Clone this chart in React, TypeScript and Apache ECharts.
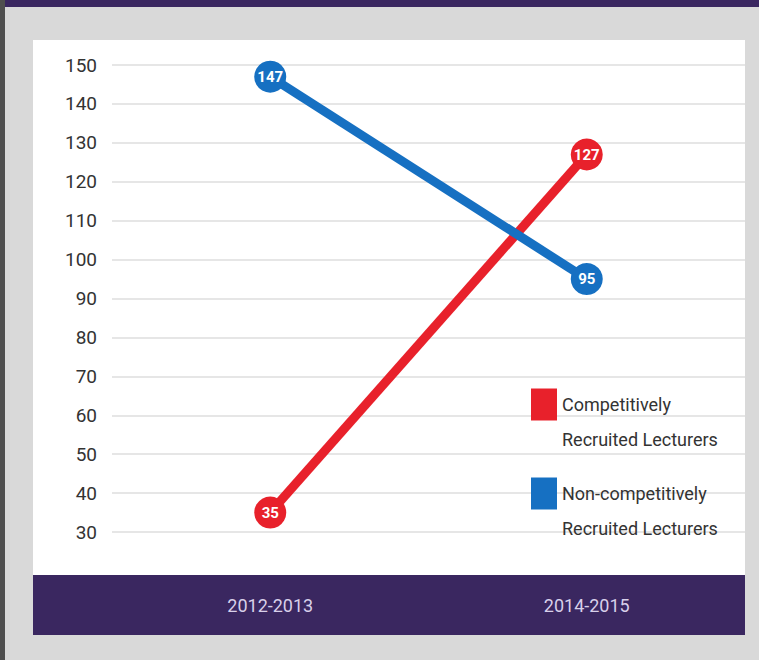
import React, { useEffect, useRef } from "react";
import * as echarts from "echarts";

const categories = ["2012-2013", "2014-2015"];
const competitive = [35, 127];
const nonCompetitive = [147, 95];
const seriesNames = ["Competitively Recruited Lecturers", "Non-competitively Recruited Lecturers"];
const legendLines: Record<string, string> = {
  "Competitively Recruited Lecturers": " \nCompetitively\nRecruited Lecturers",
  "Non-competitively Recruited Lecturers": " \nNon-competitively\nRecruited Lecturers",
};

const FONT = "Roboto, 'Liberation Sans Narrow', sans-serif";
const RED = "#e8212b";
const BLUE = "#1670c2";
const PURPLE = "#3a2760";

export default function App() {
  const ref = useRef<HTMLDivElement>(null);
  useEffect(() => {
    if (!ref.current) return;
    const chart = echarts.init(ref.current, undefined, { renderer: "svg" });
    const labelStyle = {
      show: true,
      position: "inside" as const,
      color: "#ffffff",
      fontFamily: FONT,
      fontWeight: "bold" as const,
      fontSize: 15,
    };
    chart.setOption({
      animation: false,
      backgroundColor: "#d9d9d9",
      graphic: {
        elements: [
          { type: "rect", z: -10, shape: { x: 0, y: 0, width: 759, height: 7 }, style: { fill: PURPLE } },
          { type: "rect", z: -10, shape: { x: 0, y: 0, width: 5, height: 660 }, style: { fill: "#4f4f4f" } },
          { type: "rect", z: -10, shape: { x: 33, y: 40, width: 712, height: 535 }, style: { fill: "#ffffff" } },
          { type: "rect", z: -10, shape: { x: 33, y: 575, width: 712, height: 60 }, style: { fill: PURPLE } },
        ],
      },
      grid: { left: 112, right: 14, top: 65, bottom: 128 },
      legend: {
        orient: "vertical",
        left: 531,
        top: 352,
        padding: 0,
        itemWidth: 26,
        itemHeight: 32,
        itemGap: -16,
        icon: "rect",
        selectedMode: false,
        data: seriesNames,
        formatter: (name: string) => legendLines[name] || name,
        textStyle: {
          fontFamily: FONT,
          fontSize: 18,
          lineHeight: 35,
          color: "#333333",
        },
      },
      xAxis: {
        type: "category",
        data: categories,
        boundaryGap: true,
        axisLine: { show: false },
        axisTick: { show: false },
        splitLine: { show: false },
        axisLabel: { margin: 64, color: "#d8d0ea", fontFamily: FONT, fontSize: 18 },
      },
      yAxis: {
        type: "value",
        min: 30,
        max: 150,
        interval: 10,
        axisLine: { show: false },
        axisTick: { show: false },
        splitLine: { show: true, lineStyle: { color: "#e6e6e6", width: 2 } },
        axisLabel: { margin: 15, color: "#333333", fontFamily: FONT, fontSize: 19 },
      },
      series: [
        {
          name: seriesNames[0],
          type: "line",
          data: competitive,
          symbol: "circle",
          symbolSize: 32,
          color: RED,
          lineStyle: { width: 9, color: RED },
          itemStyle: { color: RED },
          label: labelStyle,
        },
        {
          name: seriesNames[1],
          type: "line",
          data: nonCompetitive,
          symbol: "circle",
          symbolSize: 32,
          color: BLUE,
          lineStyle: { width: 9, color: BLUE },
          itemStyle: { color: BLUE },
          label: labelStyle,
        },
      ],
    });
    return () => chart.dispose();
  }, []);
  return (
    <div
      ref={ref}
      style={{ position: "absolute", left: 0, top: 0, width: 759, height: 660 }}
    />
  );
}
